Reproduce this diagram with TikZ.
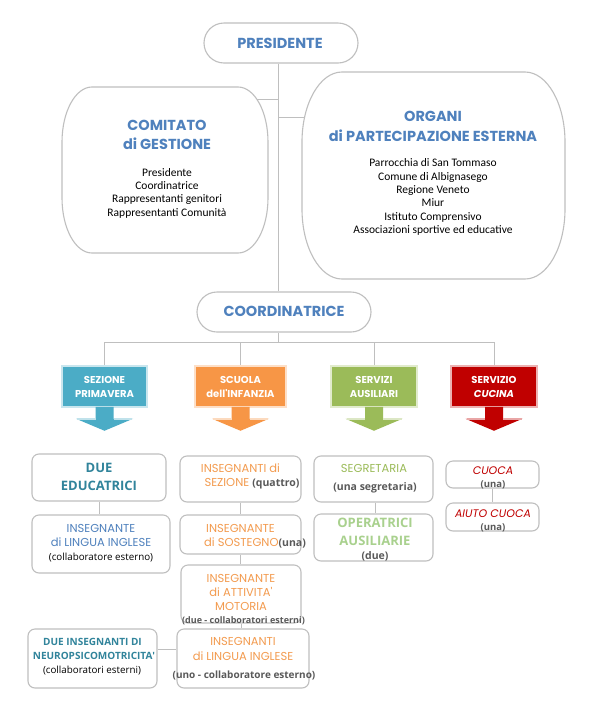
\documentclass[tikz,border=0pt]{standalone}
\usepackage{fontspec}
\setmainfont{Carlito}
\newfontfamily\comic{Poppins}
\newfontfamily\osans{Open Sans}
\usetikzlibrary{calc}
\definecolor{ttl}{HTML}{4F81BD}
\definecolor{lne}{HTML}{BFBFBF}
\definecolor{cblue}{HTML}{4BACC6}
\definecolor{corange}{HTML}{F79646}
\definecolor{cgreen}{HTML}{9BBB59}
\definecolor{cred}{HTML}{C00000}
\definecolor{cteal}{HTML}{31849B}
\definecolor{cgray}{HTML}{595959}
\definecolor{cltgreen}{HTML}{A9D18E}
\definecolor{corgtxt}{HTML}{F39B4F}
\definecolor{cseg}{HTML}{9BBB59}
\newcommand\bulgeoutline[6]{%
  \pgfmathsetmacro\bxa{#1+#5}\pgfmathsetmacro\bxb{#3-#5}%
  \pgfmathsetmacro\bya{#2+#6}\pgfmathsetmacro\byb{#4-#6}%
  \pgfmathsetmacro\cxa{#1+0.448*#5}\pgfmathsetmacro\cxb{#3-0.448*#5}%
  \pgfmathsetmacro\cya{#2+0.448*#6}\pgfmathsetmacro\cyb{#4-0.448*#6}%
  \draw[draw=lne,line width=1.1pt,fill=white] (\bxa,#2) -- (\bxb,#2)
    .. controls (\cxb,#2) and (#3,\cya) .. (#3,\bya) -- (#3,\byb)
    .. controls (#3,\cyb) and (\cxb,#4) .. (\bxb,#4) -- (\bxa,#4)
    .. controls (\cxa,#4) and (#1,\cyb) .. (#1,\byb) -- (#1,\bya)
    .. controls (#1,\cya) and (\cxa,#2) .. cycle;}
\newcommand\catarrow[2]{%
  \fill[#2] ($(#1.south)+(-9,-1)$) -- ($(#1.south)+(-9,11)$) -- ($(#1.south)+(-28.5,11)$)
    -- ($(#1.south)+(0,23)$) -- ($(#1.south)+(28.5,11)$) -- ($(#1.south)+(9,11)$)
    -- ($(#1.south)+(9,-1)$) -- cycle;
  \draw[#2!35,line width=1.2pt] ($(#1.south)+(-27.5,11.2)$) -- ($(#1.south)+(-9,11.2)$);
  \draw[#2!35,line width=1.2pt] ($(#1.south)+(9,11.2)$) -- ($(#1.south)+(27.5,11.2)$);}
\begin{document}
\begin{tikzpicture}[x=1pt,y=-1pt,
  conn/.style={draw=lne,line width=0.9pt},
  pill/.style={draw=lne,line width=1.1pt,fill=white,rounded corners=20pt,inner sep=0},
  rbox/.style={draw=lne,line width=1.1pt,fill=white,rounded corners=7pt,inner sep=0},
  area/.style={inner sep=0},
  catbox/.style={inner sep=0,minimum height=41,text=white,font=\comic\bfseries\fontsize{10}{14}\selectfont,align=center},
  ln/.style={inner sep=0,text depth=0pt,text height=#1,align=center},
  ln/.default=7.5pt,
  ttlf/.style={font=\comic\bfseries\fontsize{14.5}{16}\selectfont,text=ttl},
  bodyf/.style={font=\fontsize{11.5}{13.3}\selectfont,text=black,align=center,inner sep=0},
  cmf/.style={font=\comic\fontsize{11.5}{13}\selectfont},
  cmi/.style={font=\comic\itshape\fontsize{11}{13}\selectfont},
  grayb/.style={font=\osans\bfseries\fontsize{10.5}{12}\selectfont,text=cgray},
  bigb/.style={font=\osans\bfseries\fontsize{13}{15}\selectfont},
  smb/.style={font=\osans\bfseries\fontsize{10}{12}\selectfont},
  smr/.style={font=\osans\fontsize{9.8}{12}\selectfont,text=black}
]
\fill[white] (0,0) rectangle (596,721);
\useasboundingbox (0,0) rectangle (596,721);

% main nodes
\node[pill,minimum width=154,minimum height=40] (pres) at (281,43) {};
\node[area,minimum width=206,minimum height=166] (comit) at (165,170) {};
\node[area,minimum width=263,minimum height=207] (organi) at (433.5,175.5) {};
\node[pill,minimum width=174,minimum height=40] (coord) at (284,312) {};

\coordinate (tk) at (278,0);
\coordinate (j1) at (278,99);
\coordinate (j2) at (278,117);
\coordinate (bus) at (278,342);

\draw[conn] (pres.south -| tk) -- (coord.north -| tk);
\draw[conn] (j1) -- (comit.center |- j1);
\draw[conn] (j2) -- (organi.center |- j2);
\bulgeoutline{62}{87}{268}{253}{30}{55}
\bulgeoutline{302}{72}{565}{279}{40}{70}

% category boxes
\node[catbox,minimum width=85,fill=cblue,draw=cblue!30,line width=1.5pt] (sez) at (104.5,386.5) {SEZIONE\\PRIMAVERA};
\node[catbox,minimum width=91,fill=corange,draw=corange!30,line width=1.5pt] (scu) at (240.5,386.5) {SCUOLA\\dell\textquotesingle INFANZIA};
\node[catbox,minimum width=86,fill=cgreen,draw=cgreen!30,line width=1.5pt] (ser) at (374,386.5) {SERVIZI\\AUSILIARI};
\node[catbox,minimum width=86,fill=cred,draw=cred!30,line width=1.5pt] (cuc) at (494,386.5) {SERVIZIO\\\itshape CUCINA};
\catarrow{sez}{cblue}
\catarrow{scu}{corange}
\catarrow{ser}{cgreen}
\catarrow{cuc}{cred}

\draw[conn] (coord.south -| tk) -- (bus);
\draw[conn] (sez.north |- bus) -- (cuc.north |- bus);
\foreach \n in {sez,scu,ser,cuc} \draw[conn] (\n.north |- bus) -- (\n.north);

% bottom boxes
\node[rbox,minimum width=134,minimum height=47] (edu) at (99,477.5) {};
\node[rbox,minimum width=138,minimum height=58] (lng1) at (101,544) {};
\node[rbox,minimum width=121,minimum height=46] (isez) at (240.5,479) {};
\node[rbox,minimum width=121,minimum height=39] (sost) at (240.5,534.5) {};
\node[rbox,minimum width=120,minimum height=58] (mot) at (241,594) {};
\node[rbox,minimum width=132,minimum height=59] (lng2) at (243,658.5) {};
\node[rbox,minimum width=129,minimum height=59] (neuro) at (92.5,658.5) {};
\node[rbox,minimum width=119,minimum height=46] (segr) at (373.5,479) {};
\node[rbox,minimum width=119,minimum height=47] (oper) at (373.5,537.5) {};
\node[rbox,minimum width=93,minimum height=27] (cuoca) at (492.5,474.5) {};
\node[rbox,minimum width=93,minimum height=28] (aiuto) at (492.5,517) {};

\draw[conn] (edu.south) -- (edu.south |- lng1.north);
\draw[conn] (isez.south) -- (isez.south |- sost.north);
\draw[conn] (sost.south) -- (sost.south |- mot.north);
\draw[conn] (mot.south) -- (mot.south |- lng2.north);
\draw[conn] ([yshift=9.5pt]neuro.east) -- ([yshift=9.5pt]neuro.east -| lng2.west);
\draw[conn] ([xshift=2pt]segr.south) -- ([xshift=2pt]segr.south |- oper.north);
\draw[conn] (cuoca.south) -- (cuoca.south |- aiuto.north);

% texts top
\node[ln=10pt,ttlf] (tpres) at (280,43) {PRESIDENTE};
\node[ln=10pt,ttlf] (tcom1) at (167,125) {COMITATO};
\node[ln=10pt,ttlf] (tcom2) at (167,144) {di GESTIONE};
\node[bodyf] (tcomb) at (167,193) {Presidente\\Coordinatrice\\Rappresentanti genitori\\Rappresentanti Comunità};
\node[ln=10pt,ttlf] (torg1) at (433,116) {ORGANI};
\node[ln=10pt,ttlf] (torg2) at (433,136) {di PARTECIPAZIONE ESTERNA};
\node[bodyf] (torgb) at (433,197) {Parrocchia di San Tommaso\\Comune di Albignasego\\Regione Veneto\\Miur\\Istituto Comprensivo\\Associazioni sportive ed educative};
\node[ln=10pt,ttlf] (tcoord) at (284,311) {COORDINATRICE};

% texts bottom
\node[ln=9.5pt,bigb,text=cteal] (te1) at (99,468) {DUE};
\node[ln=9.5pt,bigb,text=cteal] (te2) at (99,486) {EDUCATRICI};
\node[ln,cmf,text=ttl] (tl1) at (101,529) {INSEGNANTE};
\node[ln,cmf,text=ttl] (tl2) at (101,543) {di LINGUA INGLESE};
\node[ln,smr] (tl3) at (101,557) {(collaboratore esterno)};
\node[ln,cmf,text=corgtxt] (ts1) at (240.5,469) {INSEGNANTI di};
\node[ln,cmf,text=corgtxt] (ts2) at (252,483) {SEZIONE {\osans\bfseries\fontsize{10.5}{12}\selectfont\color{cgray}(quattro)}};
\node[ln,cmf,text=corgtxt] (tso1) at (240.5,529) {INSEGNANTE};
\node[ln,cmf,text=corgtxt] (tso2) at (255,543) {di SOSTEGNO{\osans\bfseries\fontsize{10.5}{12}\selectfont\color{cgray}(una)}};
\node[ln,cmf,text=corgtxt] (tm1) at (241,579) {INSEGNANTE};
\node[ln,cmf,text=corgtxt] (tm2) at (241,593) {di ATTIVITA\textquotesingle};
\node[ln,cmf,text=corgtxt] (tm3) at (241,607) {MOTORIA};
\node[ln,font=\osans\bfseries\fontsize{9}{11}\selectfont,text=cgray] (tm4) at (243.5,619.5) {(due - collaboratori esterni)};
\node[ln,cmf,text=corgtxt] (tg1) at (243,642) {INSEGNANTI};
\node[ln,cmf,text=corgtxt] (tg2) at (243,657) {di LINGUA INGLESE};
\node[ln,font=\osans\bfseries\fontsize{10}{12}\selectfont,text=cgray] (tg3) at (244,675) {(uno - collaboratore esterno)};
\node[ln,smb,text=cteal] (tn1) at (92.5,642) {DUE INSEGNANTI DI};
\node[ln,smb,text=cteal] (tn2) at (94,656) {NEUROPSICOMOTRICITA\textquotesingle};
\node[ln,smr] (tn3) at (92,670) {(collaboratori esterni)};
\node[ln,cmf,text=cseg] (tr1) at (374,469) {SEGRETARIA};
\node[ln,grayb] (tr2) at (375,487) {(una segretaria)};
\node[ln=9.5pt,bigb,text=cltgreen] (to1) at (375,523) {OPERATRICI};
\node[ln=9.5pt,bigb,text=cltgreen] (to2) at (375,541) {AUSILIARIE};
\node[ln,grayb] (to3) at (375,556) {(due)};
\node[ln,cmi,text=cred] (tc1) at (493,471) {CUOCA};
\node[ln,grayb,font=\osans\bfseries\fontsize{9.5}{11}\selectfont] (tc2) at (493,483.5) {(una)};
\node[ln,cmi,text=cred] (ta1) at (493,514) {AIUTO CUOCA};
\node[ln,grayb,font=\osans\bfseries\fontsize{9.5}{11}\selectfont] (ta2) at (493,527) {(una)};
\end{tikzpicture}
\end{document}
